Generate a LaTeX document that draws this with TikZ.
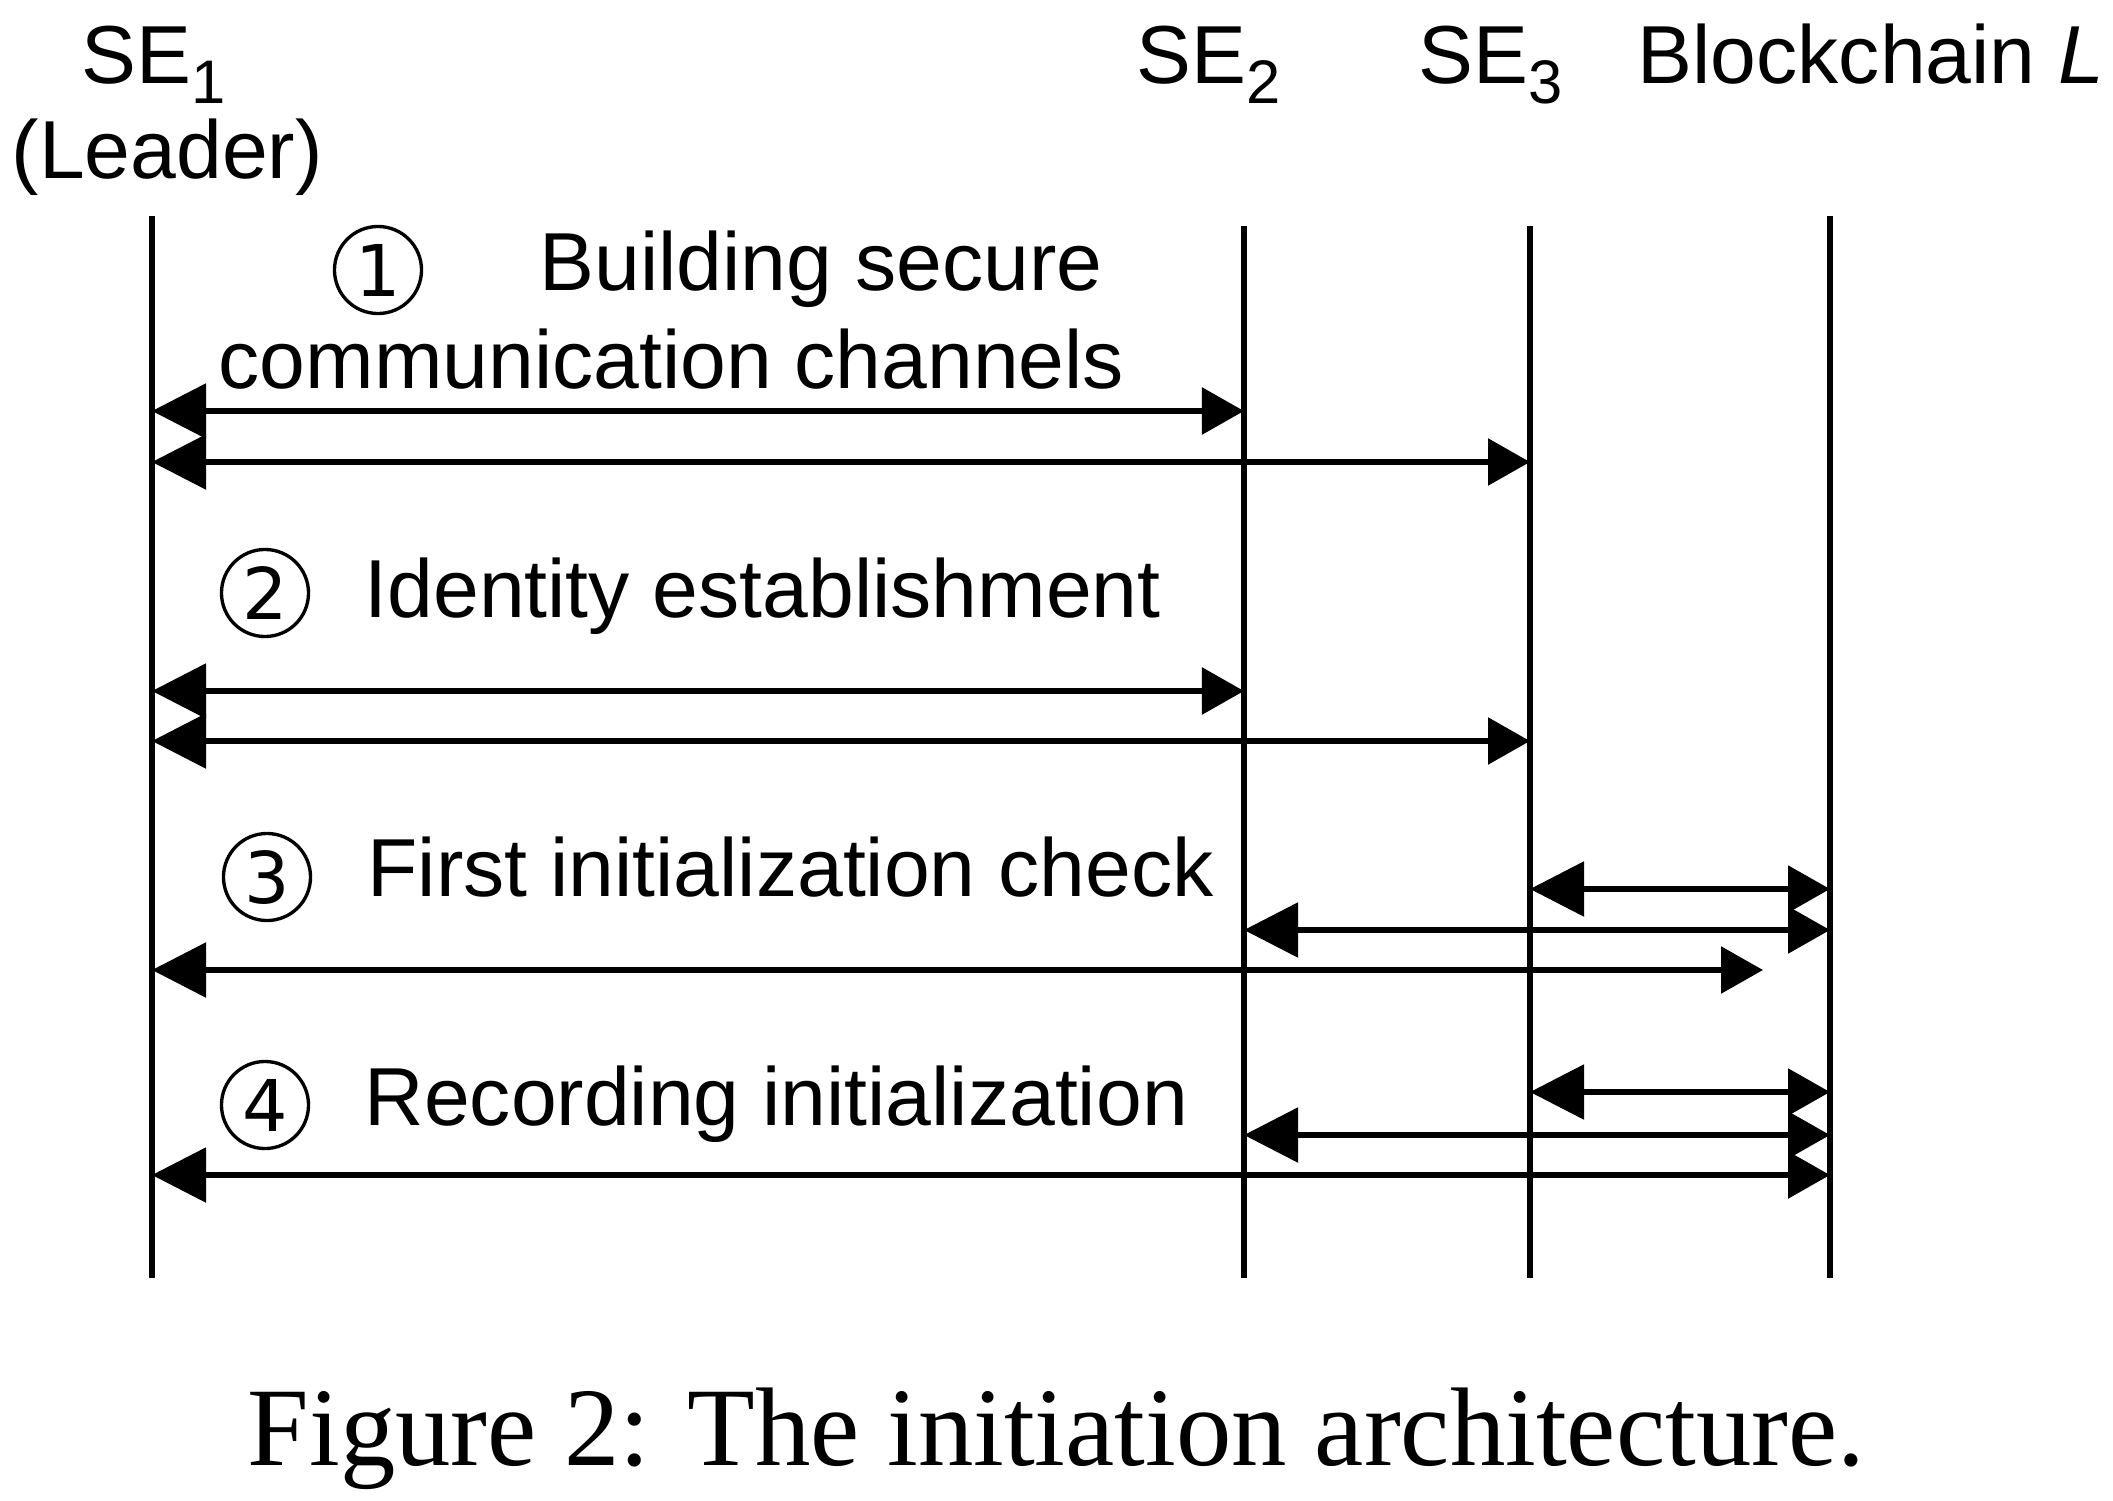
\documentclass[tikz,border=0pt]{standalone}
\usepackage{fontspec}
\newfontfamily\arial{Liberation Sans}
\newfontfamily\dejavu{DejaVu Sans}
\newfontfamily\capserif{Liberation Serif}
\usetikzlibrary{arrows.meta}
\newcommand{\mysub}[1]{\raisebox{-0.24em}{\fontsize{17.5}{20}\selectfont #1}}
\begin{document}
\begin{tikzpicture}[x=0.01cm,y=-0.01cm,
  lbl/.style={font=\arial\fontsize{23.4}{28}\selectfont, inner sep=0, anchor=base west},
  life/.style={line width=1.5pt},
  ltip/.tip={Triangle[length=0.54cm,width=0.54cm]},
  rtip/.tip={Triangle[length=0.42cm,width=0.46cm]},
  msg/.style={line width=1.6pt, ltip-rtip},
  num/.style={circle, draw, line width=0.95pt, minimum size=0.87cm, inner sep=0, font=\dejavu\fontsize{20.3}{24}\selectfont}]
\useasboundingbox (0,0) rectangle (2113,1500);
% headers
\node[lbl] (h1) at (81,84) {SE\mysub{1}};
\node[lbl] (h1b) at (11,179) {(Leader)};
\node[lbl] (h2) at (1136,84) {SE\mysub{2}};
\node[lbl] (h3) at (1418,84) {SE\mysub{3}};
\node[lbl] (h4) at (1637,84) {Blockchain \textit{L}};
% lifelines
\coordinate (t1) at (152,216); \coordinate (b1) at (152,1278);
\coordinate (t2) at (1244,226); \coordinate (b2) at (1244,1278);
\coordinate (t3) at (1530,226); \coordinate (b3) at (1530,1278);
\coordinate (t4) at (1830,216); \coordinate (b4) at (1830,1278);
\draw[life] (t1) -- (b1);
\draw[life] (t2) -- (b2);
\draw[life] (t3) -- (b3);
\draw[life] (t4) -- (b4);
% rows
\coordinate (r1) at (0,411); \coordinate (r2) at (0,462);
\coordinate (r3) at (0,691); \coordinate (r4) at (0,741);
\coordinate (r5) at (0,889); \coordinate (r6) at (0,930); \coordinate (r7) at (0,970);
\coordinate (r8) at (0,1092); \coordinate (r9) at (0,1135); \coordinate (r10) at (0,1175);
\coordinate (e7) at (1763,970);
% step 1
\node[num] (n1) at (378,270) {1};
\node[lbl] (s1a) at (539,290) {Building secure};
\node[lbl] (s1b) at (218,388) {communication channels};
\draw[msg] (t1 |- r1) -- (t2 |- r1);
\draw[msg] (t1 |- r2) -- (t3 |- r2);
% step 2
\node[num] (n2) at (265,593) {2};
\node[lbl] (s2) at (364,617) {Identity establishment};
\draw[msg] (t1 |- r3) -- (t2 |- r3);
\draw[msg] (t1 |- r4) -- (t3 |- r4);
% step 3
\node[num] (n3) at (267,877) {3};
\node[lbl] (s3) at (367,896) {First initialization check};
\draw[msg] (t3 |- r5) -- (t4 |- r5);
\draw[msg] (t2 |- r6) -- (t4 |- r6);
\draw[msg] (t1 |- r7) -- (e7);
% step 4
\node[num] (n4) at (265,1105) {4};
\node[lbl] (s4) at (364,1125) {Recording initialization};
\draw[msg] (t3 |- r8) -- (t4 |- r8);
\draw[msg] (t2 |- r9) -- (t4 |- r9);
\draw[msg] (t1 |- r10) -- (t4 |- r10);
% caption
\node[inner sep=0, anchor=base west] (cap) at (247,1465) {\scalebox{0.99}[1]{\capserif\fontsize{31.8}{36}\selectfont Figure 2: The initiation architecture.}};
\end{tikzpicture}
\end{document}
